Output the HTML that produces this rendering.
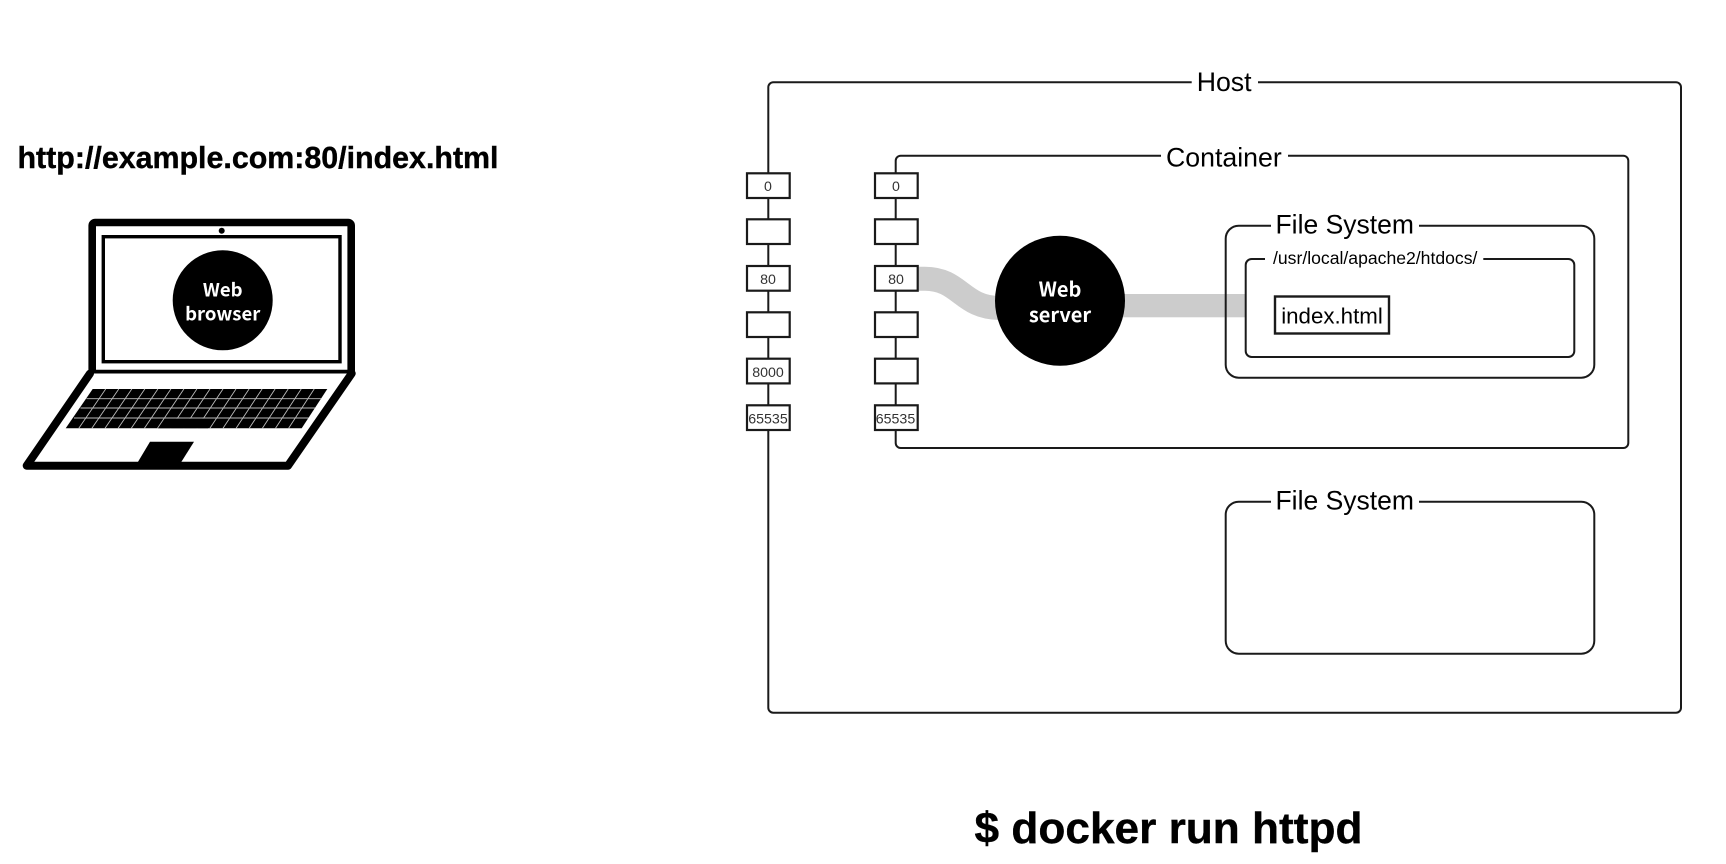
<!DOCTYPE html>
<html><head><meta charset="utf-8"><style>
html,body{margin:0;padding:0;background:#fff}
svg{display:block}
text{font-family:"Liberation Sans",sans-serif;fill:#000}
.r{fill:#fff;stroke:#1a1a1a;stroke-width:2}
.p{fill:#fff;stroke:#1a1a1a;stroke-width:2.2}
.n{font-size:14.2px;text-anchor:middle;fill:#333}
.c{font-family:"Noto Sans CJK JP","Liberation Sans",sans-serif;font-weight:700;fill:#fff;text-anchor:middle}
.b{stroke:#000;stroke-width:.4}
</style></head><body>
<svg width="1726" height="864" viewBox="0 0 1726 864" xmlns="http://www.w3.org/2000/svg">
<rect width="1726" height="864" fill="#fff"/>

<text class="b" x="17.5" y="168" font-size="30.3" font-weight="700" textLength="481" lengthAdjust="spacingAndGlyphs">http://example.com:80/index.html</text>

<!-- Laptop -->
<rect x="92.2" y="222.5" width="259" height="151" rx="3" fill="#fff" stroke="#000" stroke-width="7.6" stroke-linejoin="round"/>
<rect x="103.3" y="236.7" width="236.7" height="125" fill="#fff" stroke="#000" stroke-width="3.4"/>
<circle cx="221.7" cy="230.7" r="3" fill="#000"/>
<path d="M90 373.5 L26.7 465.7 L288 465.7 L351.7 373.5" fill="#fff" stroke="#000" stroke-width="8" stroke-linejoin="round" stroke-linecap="round"/>
<path d="M150 441.7 H194 L180 464 H136.7 Z" fill="#000"/>
<path d="M92.7 389 H327.3 L301.7 428.3 H65.7 Z" fill="#000"/>
<g stroke="#bbb" stroke-width="0.9" fill="none">
<path d="M86.5 398.7H321M80.5 408H315M74 418H308.5"/>
<path d="M105.7 389L78.8 428.3M118.8 389L91.9 428.3M131.8 389L105 428.3M144.8 389L118.1 428.3M157.9 389L131.3 428.3M170.9 389L144.4 428.3M183.9 389L157.5 428.3M196.9 389L170.6 428.3M210 389L183.7 428.3M223 389L196.8 428.3M236 389L209.9 428.3M249.1 389L223 428.3M262.1 389L236.1 428.3M275.1 389L249.2 428.3M288.2 389L262.4 428.3M301.2 389L275.5 428.3M314.2 389L288.6 428.3"/>
</g>
<path d="M165 418.6 H215 L208 428.3 H158 Z" fill="#000"/>
<circle cx="222.7" cy="300.3" r="50" fill="#000"/>
<text class="c" x="222.7" y="296.7" font-size="18.5">Web</text>
<text class="c" x="222.7" y="320.7" font-size="18.5">browser</text>

<!-- Host -->
<rect class="r" x="768.3" y="82.3" width="912.7" height="630.4" rx="5"/>
<rect x="1191.7" y="78" width="66.3" height="9" fill="#fff"/>
<text x="1196.7" y="91" font-size="26.7">Host</text>

<!-- Container -->
<rect class="r" x="895.7" y="155.7" width="732.6" height="292.3" rx="5"/>
<rect x="1161" y="151" width="127" height="9" fill="#fff"/>
<text x="1166" y="166.5" font-size="26.7">Container</text>

<!-- Grey connectors -->
<path d="M917 278.7 H925 C960 278.7 962 308 1000 308" fill="none" stroke="#ccc" stroke-width="24"/>
<rect x="1120" y="294" width="125" height="23.3" fill="#ccc"/>

<!-- File system 1 -->
<rect class="r" x="1225.7" y="225.7" width="368.6" height="152" rx="13" style="fill:none"/>
<rect x="1271" y="221" width="148" height="9" fill="#fff"/>
<text x="1275.5" y="233.5" font-size="26.5">File System</text>
<rect class="r" x="1245.7" y="259" width="328.6" height="98" rx="6" style="fill:none"/>
<rect x="1265" y="255" width="218.3" height="8" fill="#fff"/>
<text x="1273" y="264" font-size="17.6">/usr/local/apache2/htdocs/</text>
<rect x="1275" y="296.5" width="114" height="37" fill="#fff" stroke="#1a1a1a" stroke-width="2.4"/>
<text x="1281.2" y="323.5" font-size="22.3">index.html</text>

<!-- File system 2 -->
<rect class="r" x="1225.7" y="501.7" width="368.6" height="152" rx="13"/>
<rect x="1271" y="497" width="148" height="9" fill="#fff"/>
<text x="1275.5" y="509.5" font-size="26.5">File System</text>

<!-- Host ports -->
<rect class="p" x="747" y="173.3" width="42.7" height="24.7"/>
<rect class="p" x="747" y="219.3" width="42.7" height="24.7"/>
<rect class="p" x="747" y="266" width="42.7" height="24.7"/>
<rect class="p" x="747" y="312.3" width="42.7" height="24.7"/>
<rect class="p" x="747" y="358.7" width="42.7" height="24.7"/>
<rect class="p" x="747" y="405.3" width="42.7" height="24.7"/>
<text class="n" x="768" y="191">0</text>
<text class="n" x="768" y="284">80</text>
<text class="n" x="768" y="377">8000</text>
<text class="n" x="768" y="423.5">65535</text>

<!-- Container ports -->
<rect class="p" x="875" y="173.3" width="42.7" height="24.7"/>
<rect class="p" x="875" y="219.3" width="42.7" height="24.7"/>
<rect class="p" x="875" y="266" width="42.7" height="24.7"/>
<rect class="p" x="875" y="312.3" width="42.7" height="24.7"/>
<rect class="p" x="875" y="358.7" width="42.7" height="24.7"/>
<rect class="p" x="875" y="405.3" width="42.7" height="24.7"/>
<text class="n" x="896" y="191">0</text>
<text class="n" x="896" y="284">80</text>
<text class="n" x="895.5" y="423.5">65535</text>

<!-- Web server -->
<circle cx="1060" cy="300.7" r="65" fill="#000"/>
<text class="c" x="1060" y="296.5" font-size="20">Web</text>
<text class="c" x="1060" y="322" font-size="20">server</text>

<text class="b" x="974.5" y="843" font-size="44" font-weight="700" textLength="388" lengthAdjust="spacingAndGlyphs">$ docker run httpd</text>
</svg>
</body></html>
